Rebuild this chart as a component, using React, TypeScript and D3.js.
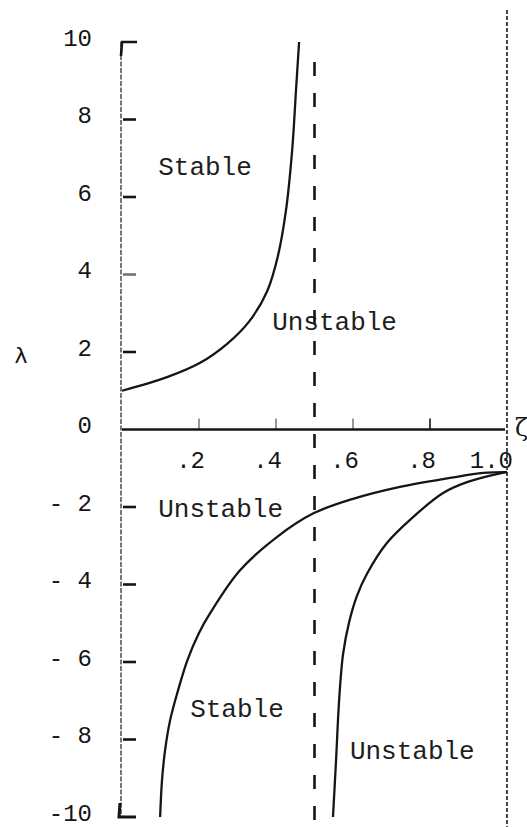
import React from "react";
import * as d3 from "d3";

// Stability boundaries in the (zeta, lambda) plane
const upperZeta = [0, 0.117, 0.203, 0.273, 0.332, 0.377, 0.405, 0.426, 0.442, 0.452, 0.46];
const upperLambda = [1.0, 1.35, 1.72, 2.21, 2.81, 3.57, 4.48, 5.66, 7.21, 8.76, 10];

const lowerLeftZeta = [0.099, 0.104, 0.112, 0.125, 0.145, 0.17, 0.2, 0.229, 0.306, 0.403, 0.496, 0.6, 0.722, 0.852, 0.938, 1.0];
const lowerLeftLambda = [-10, -9.04, -8.27, -7.5, -6.75, -5.95, -5.25, -4.74, -3.64, -2.77, -2.17, -1.79, -1.48, -1.25, -1.12, -1.1];

const lowerRightZeta = [0.548, 0.556, 0.564, 0.574, 0.59, 0.61, 0.636, 0.688, 0.756, 0.834, 0.896, 0.982, 1.0];
const lowerRightLambda = [-10, -8.53, -6.98, -5.81, -4.97, -4.3, -3.73, -2.93, -2.26, -1.64, -1.36, -1.13, -1.1];

// Axis ticks
const yTickValues = [10, 8, 6, 4, 2, 0, -2, -4, -6, -8, -10];
const yTickLabels = ["10", "8", "6", "4", "2", "0", "- 2", "- 4", "- 6", "- 8", "-10"];
const xTickValues = [0.2, 0.4, 0.6, 0.8, 1.0];
const xTickLabels = [".2", ".4", ".6", ".8", "1.0"];

// Vertical boundary lines
const boundaryZeta = [0.5, 1.0];

// Region names
const regionNames = ["Stable", "Unstable", "Unstable", "Stable", "Unstable"];
const regionZeta = [0.094, 0.39, 0.094, 0.177, 0.592];
const regionLambda = [6.75, 2.75, -2.08, -7.24, -8.32];

const W = 527;
const H = 827;
const MONO = "'Liberation Mono', 'DejaVu Sans Mono', monospace";
const INK = "#151515";

export default function App() {
  const x = d3.scaleLinear().domain([0, 1]).range([122, 507]);
  const y = d3.scaleLinear().domain([-10, 10]).range([817, 42]);

  const line = d3
    .line<[number, number]>()
    .x((d) => x(d[0]))
    .y((d) => y(d[1]))
    .curve(d3.curveCatmullRom.alpha(0.5));

  const toPts = (zs: number[], ls: number[]) => zs.map((z, i) => [z, ls[i]] as [number, number]);
  const curves = [
    toPts(upperZeta, upperLambda),
    toPts(lowerLeftZeta, lowerLeftLambda),
    toPts(lowerRightZeta, lowerRightLambda),
  ];

  const x0 = x(0);
  const yTop = y(10);
  const yBot = y(-10);
  const yZero = y(0);

  return (
    <svg
      width={W}
      height={H}
      style={{ position: "absolute", left: 0, top: 0, background: "#fff", display: "block" }}
    >
      {/* left axis with bracket ends */}
      <line x1={x0 - 1} x2={x0 - 1} y1={yTop} y2={yBot} stroke="#555" strokeWidth={1.6} strokeDasharray="5 1.5" />
      <path
        d={`M${x0 + 15},${yTop} L${x0},${yTop} L${x0 - 1},${yTop + 14}`}
        fill="none"
        stroke={INK}
        strokeWidth={2.6}
      />
      <path
        d={`M${x0 - 2},${yBot - 14} L${x0 - 3},${yBot} L${x0 + 14},${yBot}`}
        fill="none"
        stroke={INK}
        strokeWidth={3}
      />
      {yTickValues
        .filter((v) => v !== 10 && v !== -10 && v !== 0)
        .map((v) => (
          <line
            key={`yt${v}`}
            x1={x0 + 1}
            x2={x0 + 14}
            y1={y(v)}
            y2={y(v)}
            stroke={INK}
            strokeWidth={2.6}
            opacity={v === 4 ? 0.6 : 1}
          />
        ))}
      {yTickValues.map((v, i) => (
        <text
          key={`yl${v}`}
          x={92}
          y={y(v) - 3}
          textAnchor="end"
          dominantBaseline="central"
          fontFamily={MONO}
          fontSize={24}
          fill={INK}
        >
          {yTickLabels[i]}
        </text>
      ))}
      <text x={21} y={355} textAnchor="middle" dominantBaseline="central" fontFamily="'DejaVu Sans', sans-serif" fontSize={22} fill={INK}>
        λ
      </text>

      {/* zeta axis */}
      <line x1={x0} x2={x(1) - 2} y1={yZero} y2={yZero} stroke={INK} strokeWidth={2.6} />
      {xTickValues
        .filter((v) => v < 1)
        .map((v) => (
          <line key={`xt${v}`} x1={x(v)} x2={x(v)} y1={yZero} y2={yZero - 11} stroke={INK} strokeWidth={1.6} opacity={v === 0.8 ? 1 : 0.55} />
        ))}
      {xTickValues.map((v, i) => (
        <text
          key={`xl${v}`}
          x={x(v) + 6}
          y={yZero + 32}
          textAnchor="end"
          dominantBaseline="central"
          fontFamily={MONO}
          fontSize={24}
          fill={INK}
        >
          {xTickLabels[i]}
        </text>
      ))}
      <text x={515} y={yZero - 2} dominantBaseline="central" fontFamily="'DejaVu Serif', serif" fontSize={24} fill={INK}>
        ζ
      </text>

      {/* region names */}
      {regionNames.map((t, i) => (
        <text
          key={`r${i}`}
          x={x(regionZeta[i])}
          y={y(regionLambda[i])}
          dominantBaseline="central"
          fontFamily={MONO}
          fontSize={26}
          fill="#1e1e1e"
        >
          {t}
        </text>
      ))}

      {/* vertical boundaries */}
      <line
        x1={x(boundaryZeta[0])}
        x2={x(boundaryZeta[0])}
        y1={62}
        y2={H}
        stroke={INK}
        strokeWidth={2.6}
        strokeDasharray="14 17"
      />
      <line
        x1={x(boundaryZeta[1])}
        x2={x(boundaryZeta[1])}
        y1={10}
        y2={H}
        stroke="#333"
        strokeWidth={1.8}
        strokeDasharray="4 2"
      />

      {/* stability curves */}
      {curves.map((pts, i) => (
        <path key={`c${i}`} d={line(pts) || ""} fill="none" stroke={INK} strokeWidth={2.3} />
      ))}
    </svg>
  );
}
